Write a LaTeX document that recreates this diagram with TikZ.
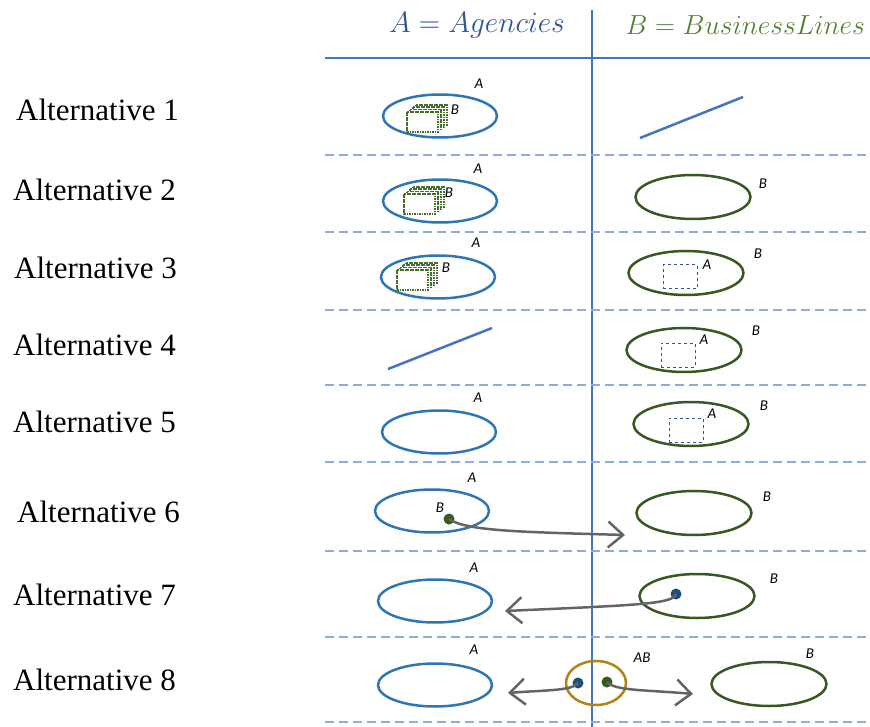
\documentclass[tikz,border=0pt]{standalone}
\usepackage{fix-cm}
\usepackage{fontspec}
\setmainfont{Liberation Serif}
\newfontfamily\tagfont{Carlito}
\usetikzlibrary{positioning, arrows.meta, shapes.geometric}
\definecolor{setA}{RGB}{46,117,182}
\definecolor{setB}{RGB}{56,87,35}
\definecolor{headA}{RGB}{47,84,150}
\definecolor{headB}{RGB}{84,130,53}
\definecolor{gridline}{RGB}{68,114,196}
\definecolor{rowline}{RGB}{143,170,220}
\definecolor{mixAB}{RGB}{176,132,20}
\definecolor{flow}{RGB}{100,100,100}
\definecolor{dotA}{RGB}{31,78,121}
\definecolor{hatch}{RGB}{70,110,45}

% stacked hatched B frames: #1 = top-left corner of the front frame
\newcommand{\bstack}[1]{%
  \foreach \k in {3,2,1,0}
    \draw[hatch, line width=1.6pt, dash pattern=on 1.6pt off 0.9pt, fill=white, shift={#1}]
      (3*\k,-2.4*\k) rectangle +(31,20);
}

\begin{document}
\begin{tikzpicture}[
  x=1pt, y=-1pt,
  agency/.style={ellipse, draw=setA, line width=2.5pt, minimum width=114pt, minimum height=43pt, inner sep=0pt},
  business/.style={ellipse, draw=setB, line width=2.5pt, minimum width=115pt, minimum height=44pt, inner sep=0pt},
  tag/.style={font=\tagfont\itshape\fontsize{15}{15}\selectfont, inner sep=0pt},
  alt/.style={font=\fontsize{31}{33}\selectfont, anchor=west, inner sep=0pt},
  dot/.style={circle, fill=#1, minimum size=11pt, inner sep=0pt},
  flowarrow/.style={-{Straight Barb[length=15pt, width=26pt]}, line width=2.5pt, draw=flow},
  subbox/.style={draw=headA, dashed, line width=1pt, minimum width=34pt, minimum height=24pt, inner sep=0pt},
  singleton/.style={gridline, line width=2.5pt}
]
  \useasboundingbox (0,0) rectangle (870,727);

  % --- Header and grid ---
  \node[font=\fontsize{29.5}{32}\selectfont, text=headA] (hA) at (477,25) {$A = Agencies$};
  \node[font=\fontsize{27.6}{32}\selectfont, text=headB, anchor=west] (hB) at (622,25) {$B = BusinessLines$};
  \draw[gridline, line width=1.2pt] (592,10) -- (592,727);
  \draw[gridline, line width=1.2pt] (325,58) -- (870,58);
  \foreach \y in {155,232,310,385,462,551,637,722}
    \draw[rowline, line width=1.2pt, dash pattern=on 9pt off 5pt] (325,\y) -- (870,\y);

  % --- Row labels ---
  \foreach \n/\x/\y in {1/16/110, 2/13/190, 3/14/268, 4/13/345, 5/13/422, 6/17/512, 7/13/595, 8/13/680}
    \node[alt] (alt\n) at (\x,\y) {Alternative \n};

  % --- Alternative 1 ---
  \node[agency] (a1) at (440,116) {};
  \bstack{(407,112)}
  \node[tag] (la1) at (479,84) {A};
  \node[tag] (lb1) at (455,110) {B};
  \coordinate (s1) at (640,138);
  \coordinate (e1) at (743,97);
  \draw[singleton] (s1) -- (e1);

  % --- Alternative 2 ---
  \node[agency] (a2) at (440,201) {};
  \bstack{(404,194)}
  \node[tag] (la2) at (478,169) {A};
  \node[tag] (lb2) at (449,193) {B};
  \node[business] (b2) at (693,197) {};
  \node[tag] (rb2) at (763,184) {B};

  % --- Alternative 3 ---
  \node[agency] (a3) at (438,277) {};
  \bstack{(397,270)}
  \node[tag] (la3) at (476,243) {A};
  \node[tag] (lb3) at (446,268) {B};
  \node[business] (b3) at (686,273) {};
  \node[subbox] (q3) at (680,277) {};
  \node[tag] (ra3) at (707,265) {A};
  \node[tag] (rb3) at (758,254) {B};

  % --- Alternative 4 ---
  \coordinate (s4) at (388,369);
  \coordinate (e4) at (492,328);
  \draw[singleton] (s4) -- (e4);
  \node[business] (b4) at (684,350) {};
  \node[subbox] (q4) at (678,355) {};
  \node[tag] (ra4) at (704,340) {A};
  \node[tag] (rb4) at (756,331) {B};

  % --- Alternative 5 ---
  \node[agency] (a5) at (439,432) {};
  \node[tag] (la5) at (478,398) {A};
  \node[business] (b5) at (691,424) {};
  \node[subbox] (q5) at (686,430) {};
  \node[tag] (ra5) at (712,414) {A};
  \node[tag] (rb5) at (764,406) {B};

  % --- Alternative 6: B moves out of A ---
  \node[agency] (a6) at (432,511) {};
  \node[tag] (la6) at (472,478) {A};
  \node[dot=setB] (d6) at (449,519) {};
  \node[tag] (lb6) at (440,508) {B};
  \node[business] (b6) at (694,513) {};
  \node[tag] (rb6) at (767,497) {B};
  \coordinate (t6) at (625,535);
  \draw[flowarrow] (d6.center) .. controls (466,531) and (520,532) .. (t6);

  % --- Alternative 7: A moves out of B ---
  \node[agency] (a7) at (435,601) {};
  \node[tag] (la7) at (474,568) {A};
  \node[business] (b7) at (697,596) {};
  \node[dot=dotA] (d7) at (676,594) {};
  \node[tag] (rb7) at (774,579) {B};
  \coordinate (t7) at (505,611);
  \draw[flowarrow] (d7.center) .. controls (673,604) and (640,605) .. (t7);

  % --- Alternative 8: merged AB ---
  \node[agency] (a8) at (435,685) {};
  \node[tag] (la8) at (474,650) {A};
  \node[ellipse, draw=mixAB, line width=2.5pt, minimum width=60pt, minimum height=44pt, inner sep=0pt] (ab8) at (596,683) {};
  \node[dot=dotA] (da8) at (578,683) {};
  \node[dot=setB] (db8) at (607,682) {};
  \node[tag] (lab8) at (642,658) {AB};
  \node[business] (b8) at (769,684) {};
  \node[tag] (rb8) at (810,654) {B};
  \coordinate (ta8) at (508,693);
  \coordinate (tb8) at (693,694);
  \draw[flowarrow] (da8.center) .. controls (572,691) and (545,690) .. (ta8);
  \draw[flowarrow] (db8.center) .. controls (614,691) and (650,690) .. (tb8);
\end{tikzpicture}
\end{document}
